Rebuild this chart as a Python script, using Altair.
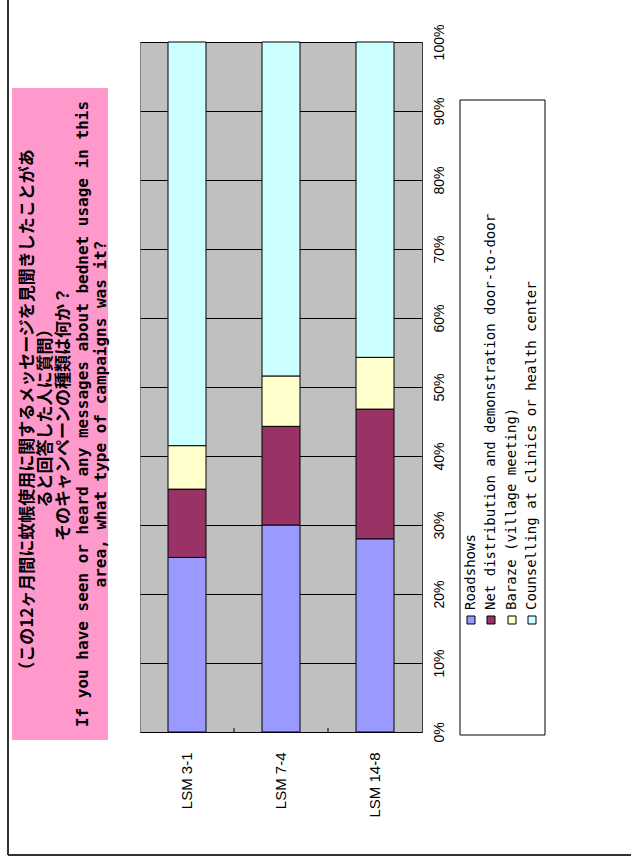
import altair as alt
import pandas as pd

# ---- data ----
sites = ["LSM 3-1", "LSM 7-4", "LSM 14-8"]
types = [
    "Roadshows",
    "Net distribution and demonstration door-to-door",
    "Baraze (village meeting)",
    "Counselling at clinics or health center",
]
roadshows = [25.3, 30.0, 28.0]
net_distribution = [9.9, 14.3, 18.8]
baraze = [6.3, 7.3, 7.5]
counselling = [58.5, 48.4, 45.7]
colors = ["#9999FF", "#993366", "#FFFFCC", "#CCFFFF"]
tick_values = [0, 0.1, 0.2, 0.3, 0.4, 0.5, 0.6, 0.7, 0.8, 0.9, 1.0]
title_lines = [
    "（この12ヶ月間に蚊帳使用に関するメッセージを見聞きしたことがあ",
    "ると回答した人に質問）",
    "そのキャンペーンの種類は何か？",
    "If you have seen or heard any messages about bednet usage in this",
    "area, what type of campaigns was it?",
]

series = [roadshows, net_distribution, baraze, counselling]
rows = []
for ti, (t, vals) in enumerate(zip(types, series)):
    for s, v in zip(sites, vals):
        rows.append({"site": s, "type": t, "value": v, "ord": ti})
df = pd.DataFrame(rows)
one = pd.DataFrame({"a": [0]})

W, H = 282, 690

bars = alt.Chart(df).mark_bar(stroke="black", strokeWidth=1, size=38).encode(
    x=alt.X(
        "site:N",
        sort=sites,
        scale=alt.Scale(paddingInner=0, paddingOuter=0),
        axis=alt.Axis(
            title=None,
            labelAngle=270,
            labelAlign="right",
            labelBaseline="middle",
            labelPadding=20,
            labelFontSize=15,
            labelFont="Liberation Sans",
            labelColor="black",
            ticks=False,
            domainColor="black",
            domainWidth=1,
        ),
    ),
    y=alt.Y(
        "value:Q",
        stack="normalize",
        scale=alt.Scale(domain=[0, 1]),
        axis=alt.Axis(
            title=None,
            orient="right",
            values=tick_values,
            format=".0%",
            grid=True,
            gridColor="black",
            gridWidth=1,
            gridOpacity=1,
            ticks=False,
            domainColor="#404040",
            domainWidth=1,
            labelAngle=270,
            labelAlign="center",
            labelBaseline="top",
            labelPadding=10,
            labelFontSize=14,
            labelFont="Liberation Sans",
            labelColor="black",
        ),
    ),
    color=alt.Color("type:N", scale=alt.Scale(domain=types, range=colors), legend=None),
    order=alt.Order("ord:Q", sort="ascending"),
)

# inner tick marks between categories on the category axis
cat_ticks = alt.Chart(pd.DataFrame({"site": sites[1:]})).mark_rule(
    color="black", strokeWidth=1
).encode(
    x=alt.X("site:N", sort=sites, bandPosition=0),
    y=alt.value(H - 4),
    y2=alt.value(H),
)

layers = [bars, cat_ticks]

# outer frame (left and bottom edges)
layers.append(
    alt.Chart(one).mark_rule(color="#333333", strokeWidth=2).encode(
        x=alt.value(-132), y=alt.value(-42), y2=alt.value(813)
    )
)
layers.append(
    alt.Chart(one).mark_rule(color="#333333", strokeWidth=2).encode(
        x=alt.value(-132), x2=alt.value(500), y=alt.value(813)
    )
)

# pink title box
layers.append(
    alt.Chart(one).mark_rect(fill="#FF99CC").encode(
        x=alt.value(-128), x2=alt.value(-32), y=alt.value(46), y2=alt.value(698)
    )
)
title_x = [-112, -94, -76, -57, -39]
for i, (line, xx) in enumerate(zip(title_lines, title_x)):
    jp = i < 3
    layers.append(
        alt.Chart(one).mark_text(
            text=line,
            angle=270,
            align="center",
            baseline="middle",
            font="Noto Sans CJK JP" if jp else "DejaVu Sans Mono",
            fontSize=17 if jp else 16,
            fontWeight="bold",
            color="black",
        ).encode(x=alt.value(xx), y=alt.value(372))
    )

# legend box and entries
layers.append(
    alt.Chart(one).mark_rect(fill="white", stroke="black", strokeWidth=1).encode(
        x=alt.value(320), x2=alt.value(405), y=alt.value(58), y2=alt.value(693)
    )
)
leg_x = [331, 351, 372, 392]
for t, c, xx in zip(types, colors, leg_x):
    layers.append(
        alt.Chart(one).mark_square(
            size=64, fill=c, stroke="black", strokeWidth=1, opacity=1, filled=True
        ).encode(x=alt.value(xx), y=alt.value(578))
    )
    layers.append(
        alt.Chart(one).mark_text(
            text=t,
            angle=270,
            align="left",
            baseline="middle",
            font="DejaVu Sans Mono",
            fontSize=14,
            color="black",
        ).encode(x=alt.value(xx), y=alt.value(568))
    )

chart = (
    alt.layer(*layers)
    .properties(
        width=W,
        height=H,
        autosize=alt.AutoSizeParams(type="none"),
        padding={"left": 140, "top": 42, "right": 209, "bottom": 129},
        background="white",
    )
    .configure_view(fill="#C0C0C0", stroke="#808080", strokeWidth=1)
)

chart.save("out.html", embed_options={"renderer": "svg", "actions": False})
